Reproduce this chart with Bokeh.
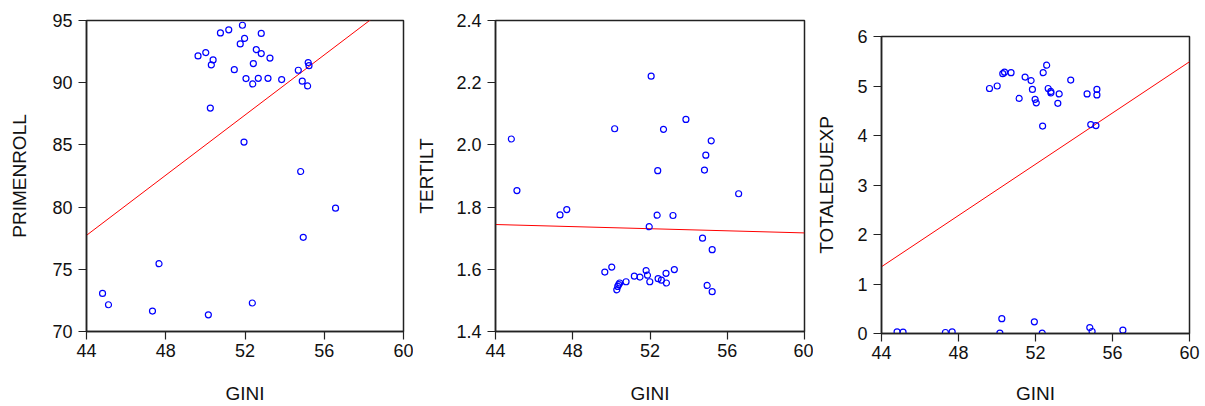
from bokeh.plotting import figure
from bokeh.layouts import row, column
from bokeh.models import Range1d, FixedTicker, PrintfTickFormatter, Spacer
from bokeh.embed import file_html
from bokeh.resources import INLINE

# ---------------- data ----------------
x_ticks = [44, 48, 52, 56, 60]

# Panel 1: PRIMENROLL vs GINI
gini_1 = [44.81, 45.11, 47.33, 47.66, 49.63, 50.02, 50.15, 50.25, 50.30, 50.39,
          50.76, 51.18, 51.46, 51.76, 51.87, 51.95, 51.98, 52.05, 52.37, 52.39,
          52.42, 52.57, 52.67, 52.82, 52.82, 53.16, 53.26, 53.85, 54.69, 54.81,
          54.89, 54.94, 55.16, 55.19, 55.23, 56.57]
primenroll = [73.06, 72.15, 71.64, 75.45, 92.15, 92.42, 71.34, 87.96, 91.43, 91.83,
              94.00, 94.25, 91.05, 93.12, 94.62, 85.23, 93.56, 90.33, 72.29, 89.90,
              91.54, 92.66, 90.35, 93.96, 92.34, 90.35, 91.98, 90.25, 91.00, 82.86,
              90.12, 77.57, 89.74, 91.62, 91.37, 79.91]
fit1_x = [44, 60]
fit1_y = [77.73, 97.07]
y1_ticks = [70, 75, 80, 85, 90, 95]

# Panel 2: TERTILT vs GINI
gini_2 = [44.82, 45.11, 47.34, 47.69, 49.66, 50.02, 50.17, 50.28, 50.33, 50.38,
          50.43, 50.76, 51.19, 51.48, 51.80, 51.87, 51.96, 51.99, 52.06, 52.37,
          52.40, 52.42, 52.59, 52.70, 52.83, 52.85, 53.19, 53.26, 53.86, 54.72,
          54.82, 54.89, 54.96, 55.17, 55.22, 55.22, 56.59]
tertilt = [2.019, 1.853, 1.775, 1.792, 1.591, 1.607, 2.052, 1.534, 1.545, 1.551,
           1.556, 1.560, 1.578, 1.575, 1.596, 1.581, 1.737, 1.560, 2.221, 1.774,
           1.917, 1.570, 1.565, 2.050, 1.587, 1.556, 1.773, 1.599, 2.082, 1.700,
           1.919, 1.967, 1.548, 2.013, 1.663, 1.528, 1.843]
fit2_x = [44, 60]
fit2_y = [1.744, 1.717]
y2_ticks = [1.4, 1.6, 1.8, 2.0, 2.2, 2.4]

# Panel 3: TOTALEDUEXP vs GINI
gini_3 = [44.81, 45.12, 47.32, 47.67, 49.61, 50.01, 50.15, 50.25, 50.30, 50.39,
          50.73, 51.15, 51.46, 51.77, 51.84, 51.94, 51.98, 52.04, 52.35, 52.37,
          52.40, 52.58, 52.66, 52.80, 52.80, 53.16, 53.23, 53.83, 54.68, 54.82,
          54.87, 54.94, 55.14, 55.19, 55.19, 56.54]
totaleduexp = [0.034, 0.027, 0.020, 0.034, 4.95, 5.00, 0.007, 0.30, 5.25, 5.28,
               5.27, 4.75, 5.18, 5.11, 4.93, 0.236, 4.73, 4.66, 0.007, 4.19,
               5.27, 5.42, 4.95, 4.89, 4.86, 4.65, 4.84, 5.12, 4.84, 0.12,
               4.22, 0.04, 4.20, 4.93, 4.82, 0.067]
fit3_x = [44, 60]
fit3_y = [1.349, 5.49]
y3_ticks = [0, 1, 2, 3, 4, 5, 6]

FONT = "Liberation Sans"


def make_panel(x, y, fx, fy, yrange, yticks, ylabel, width, height,
               left, top, right, bottom, ylab_standoff, xlab_standoff, fmt=None):
    p = figure(width=width, height=height, title=None,
               x_range=Range1d(44, 60), y_range=Range1d(*yrange),
               output_backend="svg", toolbar_location=None,
               min_border_left=left, min_border_top=top,
               min_border_right=right, min_border_bottom=bottom,
               background_fill_color="white", border_fill_color="white")
    p.xgrid.visible = False
    p.ygrid.visible = False
    p.outline_line_color = "#222222"
    p.outline_line_width = 1.5

    p.line(fx, fy, line_color="#FF0000", line_width=1)
    p.scatter(x, y, marker="circle", size=6, fill_color=None,
              line_color="#0000FF", line_width=1.2)

    p.xaxis.ticker = FixedTicker(ticks=x_ticks)
    p.yaxis.ticker = FixedTicker(ticks=yticks)
    if fmt:
        p.yaxis.formatter = PrintfTickFormatter(format=fmt)
    p.xaxis.axis_label = "GINI"
    p.yaxis.axis_label = ylabel
    for ax in (p.xaxis, p.yaxis):
        ax.axis_line_color = "#222222"
        ax.axis_line_width = 1.5
        ax.major_tick_in = 0
        ax.major_tick_out = 8
        ax.major_tick_line_color = "#222222"
        ax.major_tick_line_width = 1.2
        ax.minor_tick_line_color = None
        ax.major_label_text_font = FONT
        ax.major_label_text_font_size = "18px"
        ax.major_label_text_color = "#111111"
        ax.axis_label_text_font = FONT
        ax.axis_label_text_font_size = "19px"
        ax.axis_label_text_font_style = "normal"
        ax.axis_label_text_color = "#111111"
    p.xaxis.major_label_standoff = 4
    p.xaxis.axis_label_standoff = xlab_standoff
    p.yaxis.major_label_standoff = 6
    p.yaxis.axis_label_standoff = ylab_standoff
    return p


# frame 1: x 86..403, y 20..331 ; frame 2: x 493..804 ; frame 3: x 879..1189, y 36..333
p1 = make_panel(gini_1, primenroll, fit1_x, fit1_y, (70, 95), y1_ticks,
                "PRIMENROLL", 413, 406, 86, 20, 10, 75, 19, 23)
p2 = make_panel(gini_2, tertilt, fit2_x, fit2_y, (1.4, 2.4), y2_ticks,
                "TERTILT", 400, 406, 80, 20, 9, 75, 16, 23, fmt="%.1f")
p3 = make_panel(gini_3, totaleduexp, fit3_x, fit3_y, (0, 6), y3_ticks,
                "TOTALEDUEXP", 388, 390, 66, 20, 12, 73, 17, 21)

layout = row(p1, p2, column(Spacer(width=388, height=16), p3, spacing=0), spacing=0)
open("out.html", "w").write(file_html(layout, INLINE))
